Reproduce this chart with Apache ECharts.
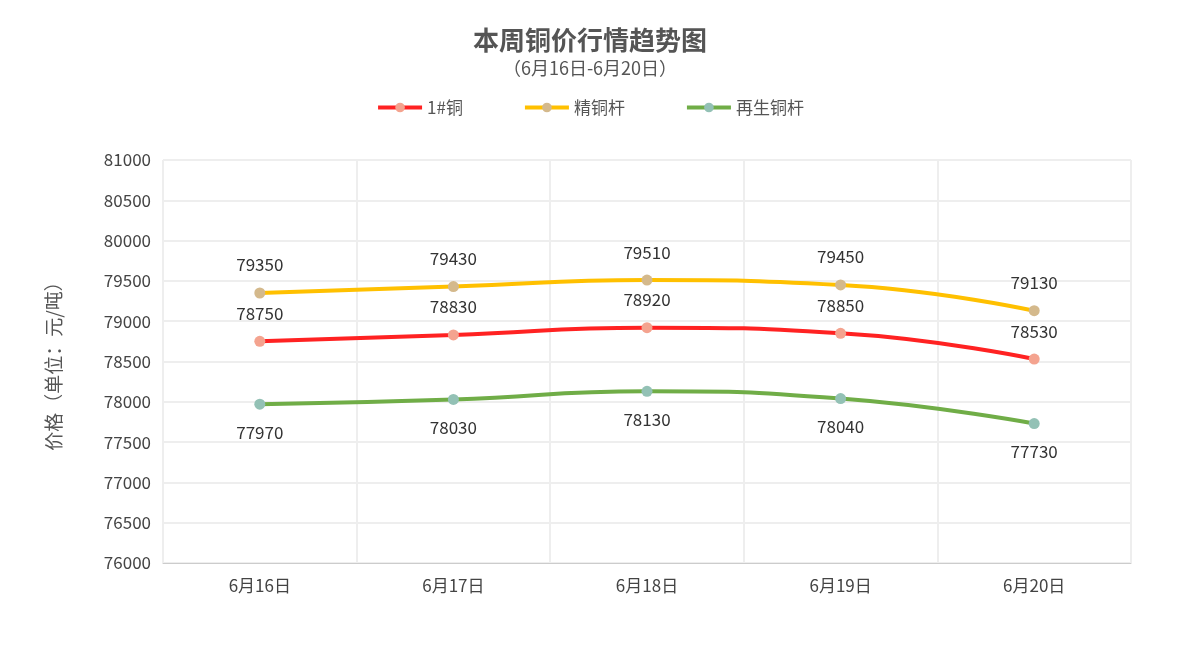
<!DOCTYPE html>
<html><head><meta charset="utf-8">
<script src="https://cdn.jsdelivr.net/npm/echarts@6/dist/echarts.min.js"></script>
<style>html,body{margin:0;padding:0;background:#fff}#c{width:1180px;height:646px}</style>
</head><body><div id="c"></div>
<script>
const categories = ['6月16日','6月17日','6月18日','6月19日','6月20日'];
const copper1 = [78750,78830,78920,78850,78530];
const rod = [79350,79430,79510,79450,79130];
const recycled = [77970,78030,78130,78040,77730];
const font = '"Microsoft YaHei","Noto Sans CJK SC",sans-serif';
function s(name, data, line, dot, pos){
  return {name, type:'line', data, smooth:true, symbol:'circle', symbolSize:11,
    lineStyle:{color:line,width:4}, itemStyle:{color:dot},
    label:{show:true, position:pos, distance:14, color:'#333', fontSize:17, fontFamily:font}};
}
const chart = echarts.init(document.getElementById('c'));
chart.setOption({
  textStyle:{fontFamily:font},
  title:{text:'本周铜价行情趋势图', subtext:'（6月16日-6月20日）', left:'center', top:22, itemGap:6,
    textStyle:{fontSize:26,fontWeight:'bold',color:'#555',fontFamily:font},
    subtextStyle:{fontSize:18,color:'#555',fontFamily:font}},
  legend:{top:94, itemGap:60, itemWidth:44, itemHeight:12, textStyle:{fontSize:17,color:'#555',fontFamily:font},
    data:['1#铜','精铜杆','再生铜杆'], lineStyle:{width:4}},
  grid:{left:163, right:49, top:160, bottom:83},
  xAxis:{type:'category', data:categories, boundaryGap:true,
    axisLine:{lineStyle:{color:'#ccc'}}, axisTick:{show:false},
    axisLabel:{color:'#444',fontSize:17,margin:14},
    splitLine:{show:true,lineStyle:{color:'#eee',width:2}}},
  yAxis:{type:'value', min:76000, max:81000, interval:500,
    name:'价格（单位：元/吨）', nameLocation:'middle', nameGap:100, nameRotate:90,
    nameTextStyle:{fontSize:19,color:'#555'},
    axisLine:{show:false}, axisTick:{show:false},
    axisLabel:{color:'#444',fontSize:17,margin:12, formatter:v=>String(v)},
    splitLine:{lineStyle:{color:'#eee',width:2}}},
  series:[
    s('1#铜', copper1, '#ff2222', '#f4a38f', 'top'),
    s('精铜杆', rod, '#ffc000', '#d4b98c', 'top'),
    s('再生铜杆', recycled, '#70ad47', '#93c1b5', 'bottom')
  ]
});
</script></body></html>
